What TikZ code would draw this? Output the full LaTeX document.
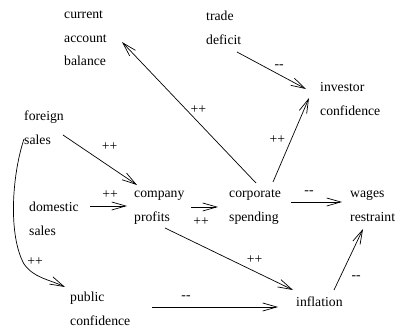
\documentclass[tikz,border=0pt]{standalone}
\usepackage{fontspec}
\setmainfont{Liberation Serif}
\usetikzlibrary{arrows.meta}
\tikzset{
  concept/.style={align=left, inner sep=0pt, anchor=base west, font=\fontsize{13.7}{23.5}\selectfont},
  lbl/.style={inner sep=0pt, font=\fontsize{13.7}{16}\selectfont},
  link/.style={line width=0.7pt, -{Straight Barb[length=14pt,width=8pt,line width=0.7pt]}}
}
\begin{document}
\begin{tikzpicture}[x=1pt,y=-1pt]
\useasboundingbox (0,0) rectangle (396,328);
\node[concept] (cab) at (64,66) {current\\account\\balance};
\node[concept] (td) at (206,44.5) {trade\\deficit};
\node[concept] (ic) at (320,115.5) {investor\\confidence};
\node[concept] (fs) at (24,144.5) {foreign\\sales};
\node[concept] (ds) at (29,235.5) {domestic\\sales};
\node[concept] (cp) at (134,221.5) {company\\profits};
\node[concept] (cs) at (229,221.5) {corporate\\spending};
\node[concept] (wr) at (350,221.5) {wages\\restraint};
\node[concept] (pc) at (70,325.5) {public\\confidence};
\node[concept] (inf) at (296,307) {inflation};

\draw[link] ([shift={(27,-38.5)}]cs.base west) -- ([shift={(58,-24)}]cab.base west)
  node[lbl, pos=0.43, shift={(0,-13)}] {++};
\draw[link] ([shift={(31,7.5)}]td.base west) -- ([shift={(-14,-26.5)}]ic.base west)
  node[lbl, pos=0.61, shift={(0,-7.5)}] {-{}-};
\draw[link] ([shift={(44,-39.5)}]cs.base west) -- ([shift={(-11,-17.5)}]ic.base west)
  node[lbl, pos=0.51, shift={(-14,0)}] {++};
\draw[link] ([shift={(39,-9.5)}]fs.base west) -- ([shift={(3,-36.5)}]cp.base west)
  node[lbl, pos=0.63, shift={(0,-20)}] {++};
\draw[link] ([shift={(0,-5.5)}]fs.base west) .. controls (12,175) and (8,235) .. (24,264)
  .. controls (34,278) and (48,279) .. ([shift={(-5,-38.5)}]pc.base west);
\node[lbl] (lfp) at (35,262) {++};
\draw[link] ([shift={(61,-29.5)}]ds.base west) -- ([shift={(-7,-15.5)}]cp.base west)
  node[lbl, midway, shift={(1.5,-11)}] {++};
\draw[link] ([shift={(57,-14.5)}]cp.base west) -- ([shift={(-11,-14.5)}]cs.base west)
  node[lbl, midway, shift={(-3.5,15)}] {++};
\draw[link] ([shift={(62,-19.5)}]cs.base west) -- ([shift={(-8,-19.5)}]wr.base west)
  node[lbl, midway, shift={(-7.5,-9)}] {-{}-};
\draw[link] ([shift={(31,6.5)}]cp.base west) -- ([shift={(-3,-17)}]inf.base west)
  node[lbl, pos=0.70, shift={(0,-11.6)}] {++};
\draw[link] ([shift={(82,-18.5)}]pc.base west) -- ([shift={(-18,0)}]inf.base west)
  node[lbl, pos=0.27, shift={(0,-9)}] {-{}-};
\draw[link] ([shift={(38,-17)}]inf.base west) -- ([shift={(13,7.5)}]wr.base west)
  node[lbl, pos=0.2, shift={(16.3,0)}] {-{}-};
\end{tikzpicture}
\end{document}
